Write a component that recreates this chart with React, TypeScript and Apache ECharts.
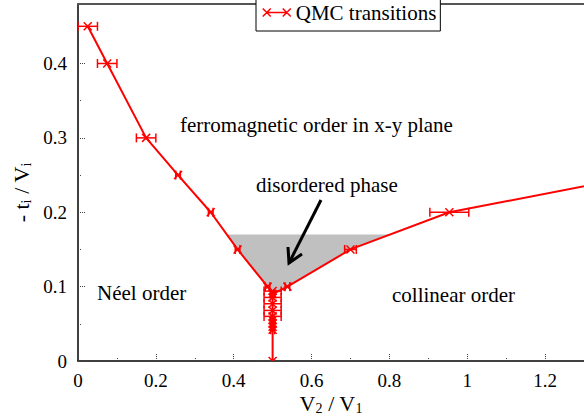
import React, { useEffect, useRef } from "react";
import * as echarts from "echarts";

// main transition line (V2/V1, -t/V) with horizontal error bars
const mainX = [0.025, 0.075, 0.175, 0.257, 0.341, 0.41, 0.487, 0.5, 0.538, 0.7, 0.954, 1.5];
const mainY = [0.45, 0.4, 0.3, 0.25, 0.2, 0.15, 0.1, 0.09, 0.1, 0.15, 0.2, 0.255];
const mainErr = [0.025, 0.025, 0.025, 0.006, 0.006, 0.006, 0.006, 0.006, 0.006, 0.015, 0.05, 0];

// vertical cluster of transitions at V2/V1 = 0.5
const clusterX = [0.5, 0.5, 0.5, 0.5, 0.5, 0.5, 0.5, 0.5, 0.5, 0.5];
const clusterY = [0.094, 0.0855, 0.077, 0.068, 0.06, 0.055, 0.05, 0.046, 0.042, 0];
const clusterErr = [0.022, 0.022, 0.022, 0.022, 0.022, 0.005, 0.005, 0.005, 0.005, 0];

// disordered (grey) region
const greyX = [0.382, 0.41, 0.487, 0.5, 0.538, 0.7, 0.8];
const greyY = [0.17, 0.15, 0.1, 0.09, 0.1, 0.15, 0.17];

const xTicks = [0, 0.2, 0.4, 0.6, 0.8, 1, 1.2];
const yTicks = [0, 0.1, 0.2, 0.3, 0.4];

const FONT = "Liberation Serif, Times New Roman, DejaVu Serif, serif";
const RED = "#ff0000";

export default function App() {
  const ref = useRef<HTMLDivElement>(null);
  useEffect(() => {
    const chart = echarts.init(ref.current!, undefined, { renderer: "svg" });
    const errData = mainX
      .map((x, i) => [x, mainY[i], mainErr[i]])
      .concat(clusterX.map((x, i) => [x, clusterY[i], clusterErr[i]]))
      .filter((d) => d[0] <= 1.3);

    const axisTickStyle = { color: "#444", width: 1, type: "dotted" as const };
    const note = (text: string, left: number, top: number) => ({
      text,
      left,
      top,
      padding: 0,
      textStyle: { fontFamily: FONT, fontSize: 21, fontWeight: "normal", color: "#000" },
    });
    const nameStyle = {
      fontFamily: FONT,
      fontSize: 22,
      color: "#000",
      lineHeight: 24,
      rich: { s: { fontFamily: FONT, fontSize: 14, color: "#000", lineHeight: 24, verticalAlign: "bottom" } },
    };
    const option: any = {
      animation: false,
      textStyle: { fontFamily: FONT },
      grid: { left: 78, right: 0, top: 4, bottom: 57, containLabel: false, outerBoundsMode: "none" },
      title: [
        note("ferromagnetic order in x-y plane", 180, 114),
        note("disordered phase", 256, 174),
        note("Néel order", 97, 282),
        note("collinear order", 392, 284),
      ],
      legend: {
        data: [
          {
            name: "QMC transitions",
            icon: "path://M0,0L8,8M0,8L8,0M4,4L24,4M20,0L28,8M20,8L28,0",
          },
        ],
        left: 256,
        top: -6,
        padding: [8, 4, 8, 6],
        itemWidth: 28,
        itemHeight: 8,
        backgroundColor: "#fff",
        borderColor: "#000",
        borderWidth: 1,
        borderRadius: 0,
        itemStyle: { color: RED, borderColor: RED, borderWidth: 1.5 },
        textStyle: { fontFamily: FONT, fontSize: 21, color: "#000" },
      },
      xAxis: [
        {
          type: "value",
          min: 0,
          max: 1.3,
          interval: 0.2,
          name: "V{s|2} / V{s|1}",
          nameLocation: "middle",
          nameGap: 30,
          nameMoveOverlap: false,
          nameTextStyle: nameStyle,
          axisLine: { show: true, lineStyle: { color: "#000", width: 1.5 } },
          axisTick: { show: true, inside: true, length: 8, lineStyle: axisTickStyle, customValues: xTicks },
          minorTick: { show: true, splitNumber: 2, length: 4, lineStyle: axisTickStyle },
          axisLabel: {
            customValues: xTicks,
            margin: 10,
            fontFamily: FONT,
            fontSize: 19,
            color: "#000",
          },
          splitLine: { show: false },
        },
        {
          type: "value",
          position: "top",
          min: 0,
          max: 1.3,
          interval: 0.2,
          axisLine: { show: true, lineStyle: { color: "#555", width: 2 } },
          axisTick: { show: false },
          axisLabel: { show: false },
          splitLine: { show: false },
        },
      ],
      yAxis: {
        type: "value",
        min: 0,
        max: 0.48,
        interval: 0.1,
        name: "- t{s|i} / V{s|i}",
        nameLocation: "middle",
        nameRotate: 90,
        nameGap: 45,
        nameMoveOverlap: false,
        nameTextStyle: { ...nameStyle, padding: [0, 20, 0, 0] },
        axisLine: { show: true, lineStyle: { color: "#000", width: 1.5 } },
        axisTick: { show: true, inside: true, length: 8, lineStyle: axisTickStyle, customValues: yTicks },
        minorTick: { show: true, splitNumber: 2, length: 4, lineStyle: axisTickStyle },
        axisLabel: {
          customValues: yTicks,
          margin: 11,
          fontFamily: FONT,
          fontSize: 19,
          color: "#000",
        },
        splitLine: { show: false },
      },
      series: [
        {
          type: "custom",
          name: "disordered",
          z: 1,
          silent: true,
          data: [[greyX[0], greyY[0]]],
          encode: { x: 0, y: 1 },
          renderItem: (params: any, api: any) => ({
            type: "polygon",
            shape: { points: greyX.map((x, i) => api.coord([x, greyY[i]])) },
            style: { fill: "#c0c0c0", stroke: "none" },
          }),
        },
        {
          type: "line",
          name: "QMC transitions",
          z: 3,
          showSymbol: false,
          symbol: "none",
          data: mainX.map((x, i) => [x, mainY[i]]),
          lineStyle: { color: RED, width: 2 },
          itemStyle: { color: RED },
        },
        {
          type: "line",
          name: "QMC transitions",
          z: 3,
          showSymbol: false,
          symbol: "none",
          data: clusterX.map((x, i) => [x, clusterY[i]]),
          lineStyle: { color: RED, width: 2 },
          itemStyle: { color: RED },
        },
        {
          type: "custom",
          name: "errors",
          z: 4,
          clip: true,
          data: errData,
          encode: { x: 0, y: 1 },
          renderItem: (params: any, api: any) => {
            const x = api.value(0);
            const y = api.value(1);
            const e = api.value(2);
            const c = api.coord([x, y]);
            const l = api.coord([x - e, y]);
            const r = api.coord([x + e, y]);
            const s = 4;
            const cap = 4.5;
            const st = { stroke: RED, lineWidth: 1.5, fill: "none" };
            const children: any[] = [
              { type: "line", shape: { x1: c[0] - s, y1: c[1] - s, x2: c[0] + s, y2: c[1] + s }, style: st },
              { type: "line", shape: { x1: c[0] - s, y1: c[1] + s, x2: c[0] + s, y2: c[1] - s }, style: st },
            ];
            if (e > 0) {
              children.push(
                { type: "line", shape: { x1: l[0], y1: l[1], x2: r[0], y2: r[1] }, style: st },
                { type: "line", shape: { x1: l[0], y1: l[1] - cap, x2: l[0], y2: l[1] + cap }, style: st },
                { type: "line", shape: { x1: r[0], y1: r[1] - cap, x2: r[0], y2: r[1] + cap }, style: st }
              );
            }
            return { type: "group", children };
          },
        },
      ],
      graphic: [
        {
          type: "polyline",
          z: 10,
          shape: { points: [[321, 200], [289, 263]] },
          style: { stroke: "#000", lineWidth: 3, fill: "none" },
        },
        {
          type: "polyline",
          z: 10,
          shape: { points: [[288, 247], [289, 263], [302, 254]] },
          style: { stroke: "#000", lineWidth: 3, fill: "none", lineJoin: "miter" },
        },
      ],
    };
    chart.setOption(option);
    return () => chart.dispose();
  }, []);
  return (
    <div
      ref={ref}
      style={{ position: "fixed", left: 0, top: 0, width: 584, height: 418, background: "#fff" }}
    />
  );
}
